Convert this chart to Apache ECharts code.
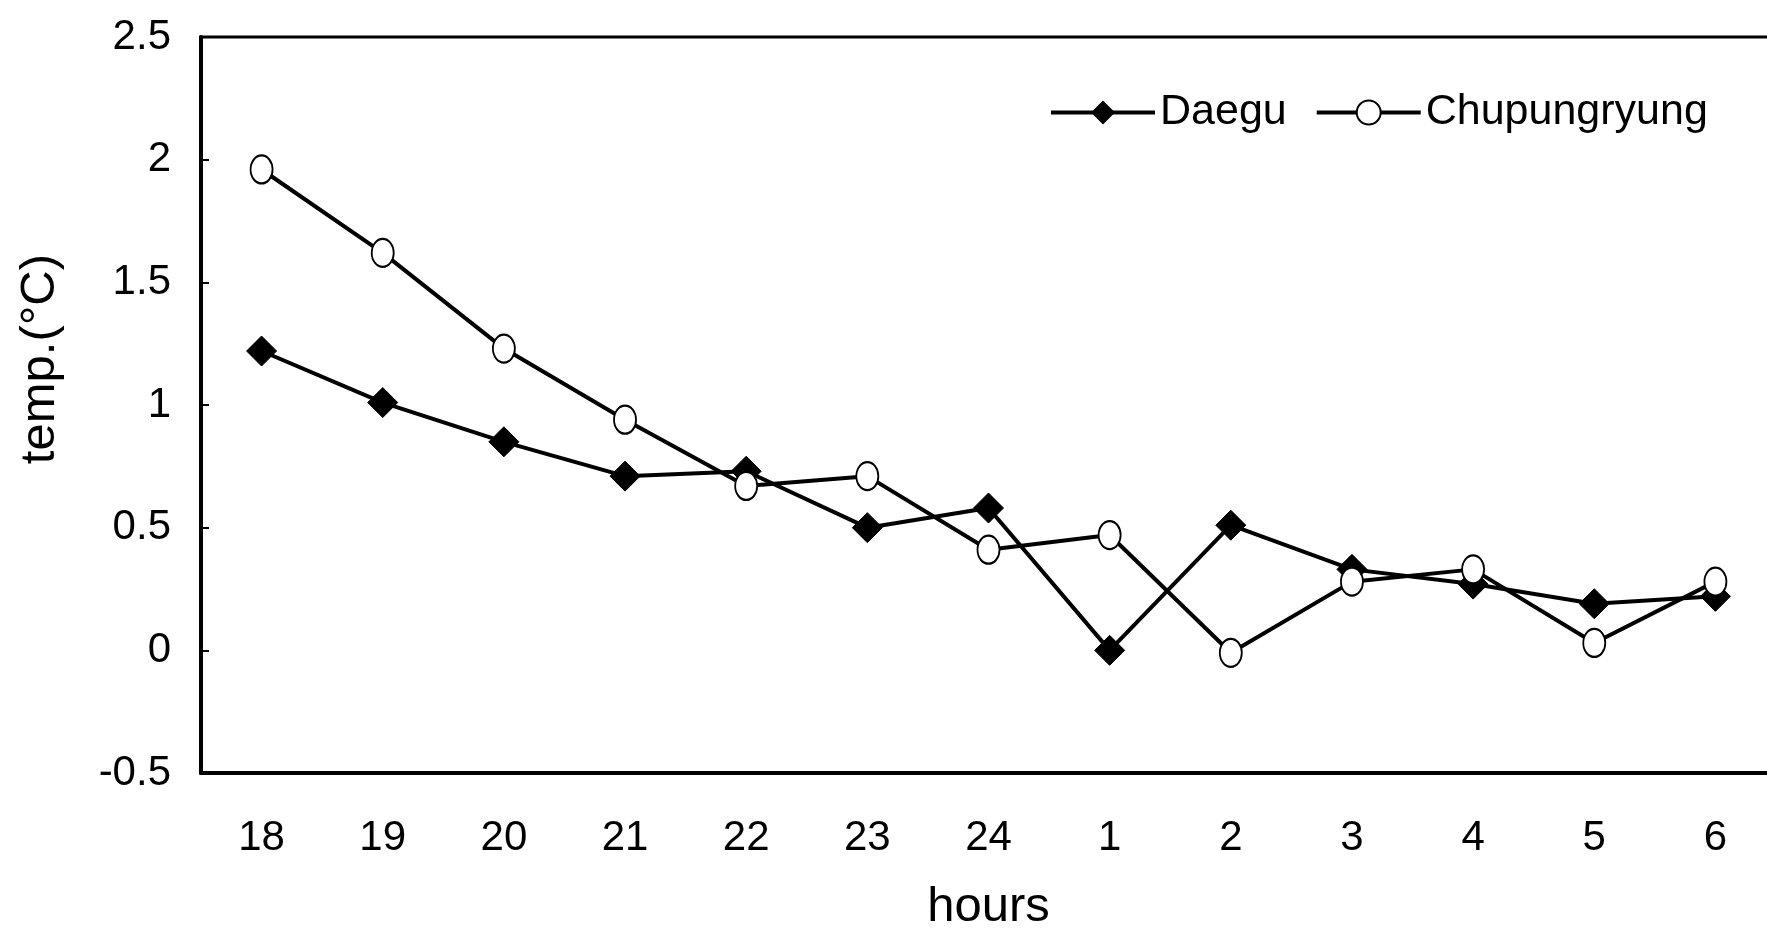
<!DOCTYPE html>
<html><head><meta charset="utf-8">
<script src="https://cdn.jsdelivr.net/npm/echarts@6/dist/echarts.min.js"></script>
<style>html,body{margin:0;padding:0;background:#fff}#c{width:1767px;height:930px}</style>
</head><body><div id="c"></div>
<script>
const hours = ['18','19','20','21','22','23','24','1','2','3','4','5','6'];
const daegu = [1.22, 1.01, 0.85, 0.71, 0.73, 0.50, 0.58, 0.00, 0.51, 0.33, 0.27, 0.19, 0.22];
const chupungryung = [1.96, 1.62, 1.23, 0.94, 0.67, 0.71, 0.41, 0.47, -0.01, 0.28, 0.33, 0.03, 0.28];
const yTicks = ['-0.5','0','0.5','1','1.5','2','2.5'];

const font = 'Liberation Sans, Arial, sans-serif';
const chart = echarts.init(document.getElementById('c'));
chart.setOption({
  backgroundColor: '#fff',
  animation: false,
  grid: {left: 201, width: 1575, top: 37, height: 736, outerBoundsMode: 'none', containLabel: false,
         show: true, borderColor: '#000', borderWidth: 3, backgroundColor: 'transparent'},
  legend: {
    left: 1044, top: 86, itemWidth: 104, itemHeight: 30, itemGap: 28,
    lineStyle: {width: 4, color: '#000'},
    textStyle: {fontFamily: font, fontSize: 43, color: '#000', padding: [0,0,0,0]},
    data: ['Daegu', 'Chupungryung']
  },
  xAxis: {
    type: 'category', data: hours, boundaryGap: true,
    name: 'hours', nameLocation: 'middle', nameGap: 110,
    nameTextStyle: {fontFamily: font, fontSize: 49, color: '#000'},
    axisLine: {onZero: false, lineStyle: {color: '#000', width: 4}},
    axisTick: {inside: true, length: 10, interval: 0, lineStyle: {color: '#000', width: 2}},
    axisLabel: {fontFamily: font, fontSize: 42, color: '#000', margin: 44},
    splitLine: {show: false}
  },
  yAxis: {
    type: 'value', min: -0.5, max: 2.5, interval: 0.5,
    axisLine: {show: true, onZero: false, lineStyle: {color: '#000', width: 4}},
    axisTick: {show: true, inside: true, length: 8, lineStyle: {color: '#000', width: 2}},
    axisLabel: {fontFamily: font, fontSize: 42, color: '#000', margin: 30,
      formatter: v => yTicks[Math.round((v + 0.5) / 0.5)]},
    splitLine: {show: false}
  },
  graphic: [{
    type: 'text', left: 16, top: 254, rotation: Math.PI / 2,
    style: {text: 'temp.(°C)', fontFamily: font, fontSize: 49, fill: '#000'}
  }],
  series: [
    {name: 'Daegu', type: 'line', data: daegu, symbol: 'diamond', symbolSize: 30,
     lineStyle: {color: '#000', width: 4}, itemStyle: {color: '#000', borderColor: '#000'}},
    {name: 'Chupungryung', type: 'line', data: chupungryung, symbol: 'emptyCircle', symbolSize: [22, 28],
     lineStyle: {color: '#000', width: 4}, itemStyle: {color: '#000', borderColor: '#000', borderWidth: 3.5}}
  ]
});
</script></body></html>
